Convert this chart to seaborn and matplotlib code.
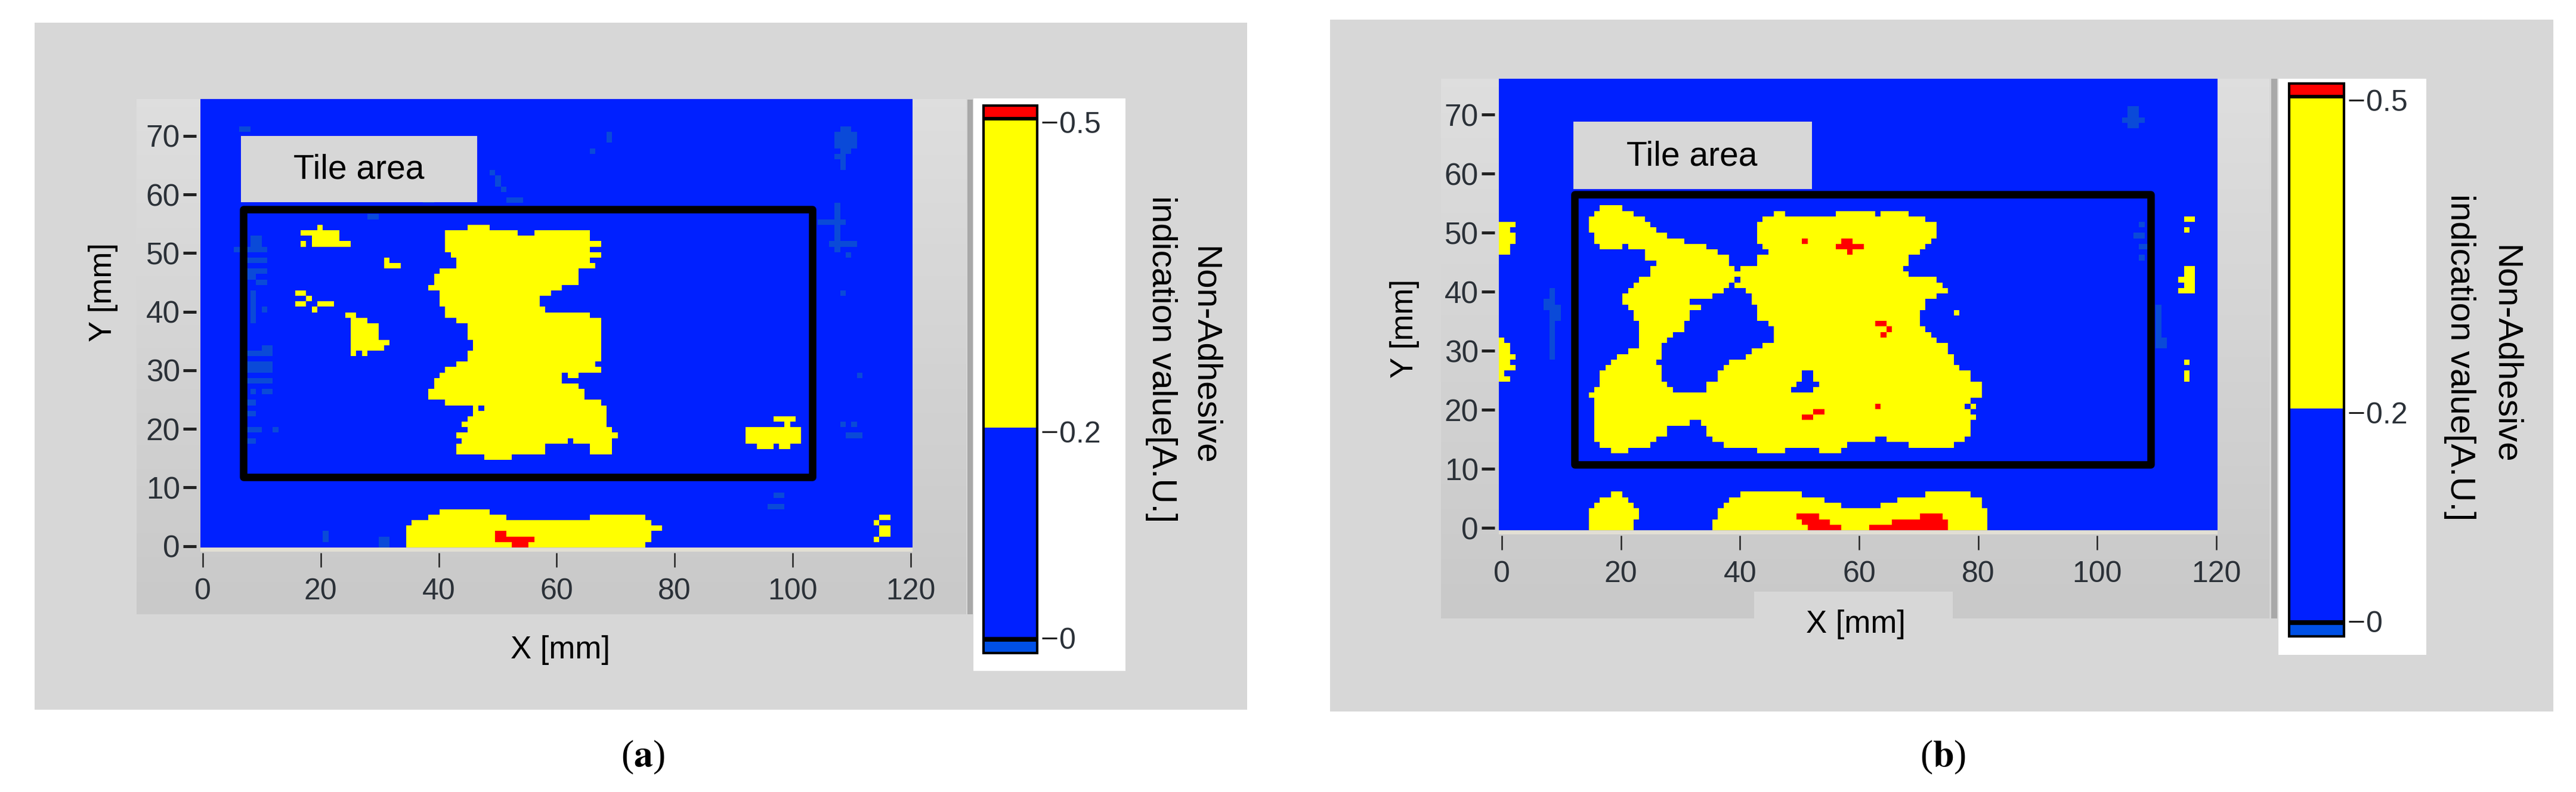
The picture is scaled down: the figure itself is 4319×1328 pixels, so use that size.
"""non-adhesive maps of two tile specimens, cells read off the picture"""
import matplotlib

matplotlib.use("Agg")
import matplotlib.pyplot as plt
import numpy as np
import seaborn as sns
from matplotlib.colors import LinearSegmentedColormap, ListedColormap
from matplotlib.patches import Rectangle

WIDTH, HEIGHT = 4319, 1328
N_ROWS, N_COLS = 82, 128

X_TICKS = [0, 20, 40, 60, 80, 100, 120]
Y_TICKS = [0, 10, 20, 30, 40, 50, 60, 70]
BAR_TICKS = [0, 0.2, 0.5]
BAR_LABELS = ["0", "0.2", "0.5"]
BAR_BANDS = [
    (-0.0145, -0.0035, "#0050e6"),
    (-0.0035, 0.001, "black"),
    (0.001, 0.204, "#0020ff"),
    (0.204, 0.5015, "#ffff00"),
    (0.5015, 0.505, "black"),
    (0.505, 0.516, "#ff0000"),
]

# cell classes
SPECK, YELLOW, RED = 1, 2, 3

# panel (a): row -> spans of columns
A_MAIN = {
    58: [(48, 52)], 57: [(44, 57), (60, 70)], 56: [(44, 70)], 55: [(44, 72)],
    54: [(44, 70)], 53: [(45, 72)], 52: [(46, 70)], 51: [(46, 71)],
    50: [(43, 68)], 49: [(42, 68)], 48: [(42, 68)], 47: [(41, 65)],
    46: [(43, 63)], 45: [(43, 61)], 44: [(43, 61)], 43: [(44, 62)],
    42: [(44, 70)], 41: [(46, 72)], 40: [(48, 72)], 39: [(48, 72)],
    38: [(48, 72)], 37: [(49, 72)], 36: [(49, 72)], 35: [(48, 72)],
    34: [(48, 72)], 33: [(46, 71)], 32: [(44, 72)], 31: [(43, 65), (66, 68)],
    30: [(42, 65)], 29: [(42, 68)], 28: [(41, 69)], 27: [(41, 69)],
    26: [(44, 72)], 25: [(49, 50), (51, 73)], 24: [(49, 73)], 23: [(48, 73)],
    22: [(47, 73)], 21: [(48, 74)], 20: [(46, 75)], 19: [(47, 66), (67, 74)],
    18: [(46, 62), (70, 74)], 17: [(46, 62), (70, 74)], 16: [(51, 56)],
}
A_SPOTS = {
    58: [(21, 22)], 57: [(18, 25)], 56: [(20, 25)], 55: [(18, 19), (20, 27)],
    52: [(33, 34)], 51: [(33, 36)],
    46: [(17, 19)], 45: [(19, 20)], 44: [(17, 19), (21, 24)], 43: [(20, 21)],
    42: [(26, 28)], 41: [(27, 30)], 40: [(27, 32)], 39: [(27, 32)],
    38: [(27, 32)], 37: [(27, 34)], 36: [(27, 33)], 35: [(27, 28), (29, 30)],
    23: [(103, 107)], 22: [(105, 106)], 21: [(98, 108)], 20: [(98, 108)],
    19: [(98, 108)], 18: [(100, 103), (104, 106)],
    5: [(122, 124)], 4: [(121, 122)], 3: [(122, 124)], 2: [(122, 124)],
    1: [(121, 122)],
}
A_BOTTOM = {
    6: [(43, 52)], 5: [(41, 55), (70, 80)], 4: [(38, 81)], 3: [(37, 83)],
    2: [(37, 81)], 1: [(37, 81)], 0: [(37, 80)],
}
A_RED = {2: [(53, 55)], 1: [(53, 60)], 0: [(56, 59)]}
A_SPECK = {
    76: [(7, 9), (115, 117)], 75: [(73, 74), (114, 118)], 74: [(73, 74), (114, 118)],
    73: [(114, 118)], 72: [(70, 71), (115, 117)], 71: [(114, 116)],
    70: [(115, 116)], 69: [(115, 116)], 68: [(52, 53)], 67: [(53, 54)],
    66: [(53, 54)], 65: [(54, 55)], 63: [(40, 42), (55, 58)], 62: [(114, 115)],
    61: [(114, 115)], 60: [(30, 32), (114, 115)], 59: [(111, 116)],
    58: [(114, 115)], 57: [(114, 115)], 56: [(9, 11), (114, 115)],
    55: [(9, 11), (113, 118)], 54: [(6, 12), (114, 115)], 53: [(116, 117)],
    52: [(8, 12)], 50: [(8, 12)], 49: [(8, 10)], 48: [(10, 12)],
    46: [(9, 10), (115, 116)], 45: [(9, 10)], 44: [(9, 10)], 43: [(9, 10), (11, 12)],
    42: [(9, 10)], 41: [(9, 10)], 36: [(11, 13)], 35: [(8, 13)], 33: [(8, 13)],
    32: [(8, 13)], 31: [(118, 119)], 30: [(8, 13)], 28: [(9, 10), (11, 13)],
    26: [(8, 10)], 24: [(8, 10)], 22: [(115, 116), (117, 118)],
    21: [(8, 11), (13, 14)], 20: [(116, 119)], 19: [(8, 10)],
    9: [(103, 105)], 7: [(102, 105)], 2: [(22, 23)], 1: [(22, 23), (32, 34)],
    0: [(32, 34)],
}

# panel (b)
B_MAIN = {
    58: [(18, 22)], 57: [(17, 24), (49, 51), (60, 67), (68, 73)],
    56: [(16, 26), (47, 76)], 55: [(16, 27), (46, 78)], 54: [(16, 28), (46, 78)],
    53: [(17, 30), (46, 78)], 52: [(17, 33), (46, 77)],
    51: [(18, 22), (23, 37), (47, 76)], 50: [(26, 39), (48, 75)],
    49: [(26, 41), (46, 73)], 48: [(28, 41), (46, 73)], 47: [(27, 42), (43, 72)],
    46: [(27, 73)], 45: [(25, 42), (43, 78)], 44: [(24, 41), (42, 79)],
    43: [(23, 40), (44, 80)], 42: [(22, 38), (45, 78)], 41: [(22, 34), (45, 76)],
    40: [(23, 36), (46, 76)], 39: [(24, 34), (46, 75)], 38: [(24, 34), (46, 75)],
    37: [(25, 33), (48, 75)], 36: [(25, 33), (49, 76)], 35: [(25, 31), (49, 77)],
    34: [(25, 30), (49, 78)], 33: [(25, 29), (47, 80)], 32: [(23, 29), (45, 80)],
    31: [(21, 29), (44, 81)], 30: [(20, 28), (41, 81)], 29: [(19, 29), (40, 82)],
    28: [(18, 29), (39, 54), (56, 84)], 27: [(18, 29), (39, 54), (56, 84)],
    26: [(18, 30), (37, 53), (57, 86)], 25: [(17, 31), (37, 52), (56, 86)],
    24: [(16, 86)], 23: [(17, 84)], 22: [(17, 83), (84, 85)], 21: [(17, 84)],
    20: [(17, 85)], 19: [(17, 34), (36, 84)], 18: [(17, 30), (37, 84)],
    17: [(17, 30), (37, 84)], 16: [(17, 28), (38, 67), (69, 83)],
    15: [(18, 27), (40, 62), (73, 81)], 14: [(20, 23), (46, 51), (57, 61)],
}
B_SPOTS = {
    56: [(122, 124)], 55: [(0, 3)], 54: [(0, 2), (122, 123)], 53: [(0, 3)],
    52: [(0, 3)], 51: [(0, 2)], 50: [(0, 2)], 47: [(122, 124)], 46: [(122, 124)],
    45: [(121, 124)], 44: [(122, 124)], 43: [(121, 124)], 39: [(81, 82)],
    34: [(0, 1)], 33: [(0, 2)], 32: [(0, 2)], 31: [(0, 3)],
    30: [(0, 2), (122, 123)], 29: [(0, 3)], 28: [(0, 1), (122, 123)],
    27: [(0, 2), (122, 123)],
}
B_BOTTOM = {
    6: [(20, 22), (43, 54), (76, 84)], 5: [(18, 23), (41, 58), (71, 86)],
    4: [(17, 24), (40, 61), (68, 86)], 3: [(16, 25), (39, 87)],
    2: [(16, 25), (39, 87)], 1: [(16, 24), (38, 87)], 0: [(16, 24), (38, 87)],
}
B_RED = {
    52: [(54, 55), (61, 63)], 51: [(60, 65)], 50: [(62, 63)], 37: [(67, 69)],
    36: [(69, 70)], 35: [(68, 69)], 22: [(67, 68)], 21: [(56, 58)], 20: [(54, 56)],
    2: [(53, 57), (75, 79)], 1: [(54, 59), (70, 80)], 0: [(55, 61), (66, 80)],
}
B_SPECK = {
    76: [(112, 114)], 75: [(112, 114)], 74: [(111, 115)], 73: [(112, 114)],
    55: [(114, 115)], 53: [(113, 115)], 51: [(114, 116)], 49: [(114, 115)],
    43: [(9, 10)], 42: [(9, 10)], 41: [(8, 10)], 40: [(8, 11), (117, 118)],
    39: [(9, 11), (117, 118)], 38: [(9, 11), (117, 118)], 37: [(9, 10), (117, 118)],
    36: [(9, 10), (117, 118)], 35: [(9, 10), (117, 118)], 34: [(9, 10), (117, 119)],
    33: [(9, 10), (117, 119)], 32: [(9, 10)], 31: [(9, 10)],
}

# tile outline in mm: x0, x1, y0, y1
A_TILE = (6.9, 103.4, 11.8, 57.5)
B_TILE = (12.2, 109.0, 10.8, 56.5)

TEXT = "#2b3138"
GREY = "#d7d7d7"
CMAP = ListedColormap(["#0020ff", "#0a4ad8", "#ffff00", "#ff0000"])
RAMP = LinearSegmentedColormap.from_list("ramp", ["#dedede", "#c9c9c9"])


def build_grid(layers):
    grid = np.zeros((N_ROWS, N_COLS), dtype=int)
    for rows, value in layers:
        for row, spans in rows.items():
            for start, stop in spans:
                grid[row, start:stop] = value
    return grid


def px_axes(fig, left, right, top, bottom):
    return fig.add_axes(
        [left / WIDTH, 1 - bottom / HEIGHT, (right - left) / WIDTH, (bottom - top) / HEIGHT]
    )


def draw_map(fig, box, grid, tile, x_fit, y_fit):
    ax = px_axes(fig, *box)
    sns.heatmap(grid, ax=ax, cmap=CMAP, vmin=0, vmax=3, cbar=False, xticklabels=False, yticklabels=False)
    ax.invert_yaxis()
    #  moving a spine resets the ticks, so it comes first
    ax.spines["left"].set_position(("outward", 5))
    ax.spines["bottom"].set_position(("outward", 6.5))
    for side in ["left", "bottom", "top", "right"]:
        ax.spines[side].set_visible(False)
    ax.set_xticks(x_fit[0] + np.array(X_TICKS) * x_fit[1])
    ax.set_yticks(y_fit[0] + np.array(Y_TICKS) * y_fit[1])
    ax.set_xticklabels(X_TICKS, fontsize=36, color=TEXT)
    ax.set_yticklabels(Y_TICKS, fontsize=37, color=TEXT, rotation=0)
    ax.tick_params(axis="y", left=True, length=16, width=3.6, pad=3.5, color="#222222")
    ax.tick_params(axis="x", bottom=True, length=17, width=1.8, pad=13, color="#222222")
    x0, x1, y0, y1 = tile
    ax.add_patch(
        Rectangle(
            (x_fit[0] + x0 * x_fit[1], y_fit[0] + y0 * y_fit[1]),
            (x1 - x0) * x_fit[1],
            (y1 - y0) * y_fit[1],
            fill=False,
            ec="black",
            lw=9,
            joinstyle="round",
        )
    )
    return ax


def draw_bar(fig, box):
    ax = px_axes(fig, *box)
    for low, high, colour in BAR_BANDS:
        ax.axhspan(low, high, color=colour, lw=0)
    ax.set_xlim(0, 1)
    ax.set_ylim(BAR_BANDS[0][0], BAR_BANDS[-1][1])
    ax.spines["right"].set_position(("outward", 5.8))
    for side in ["left", "bottom", "top", "right"]:
        ax.spines[side].set_visible(False)
    ax.set_xticks([])
    ax.yaxis.tick_right()
    ax.set_yticks(BAR_TICKS)
    ax.set_yticklabels(BAR_LABELS, fontsize=36, color=TEXT)
    ax.tick_params(axis="y", right=True, length=18, width=2.2, pad=3, color="#222222")
    ax.add_patch(Rectangle((0, 0), 1, 1, transform=ax.transAxes, fill=False, ec="black", lw=3, clip_on=False))


sns.set_theme(style="white")
plt.rcParams["font.family"] = ["Liberation Sans", "DejaVu Sans"]
fig = plt.figure(figsize=(WIDTH / 100, HEIGHT / 100), dpi=100, facecolor="white")

# backdrop works in picture pixels
bg = fig.add_axes([0, 0, 1, 1])
bg.axis("off")
bg.add_patch(Rectangle((58, 38), 2033, 1152, color=GREY, lw=0))
bg.add_patch(Rectangle((2230, 33), 2051, 1160, color=GREY, lw=0))
ramp = np.linspace(0, 1, 64).reshape(-1, 1)
for left, right, top_y, bottom in [(229, 1620, 166, 1030), (2416, 3805, 132, 1037)]:
    bg.imshow(ramp, extent=(left, right, bottom, top_y), cmap=RAMP, aspect="auto", zorder=1)
bg.set_xlim(0, WIDTH)
bg.set_ylim(HEIGHT, 0)
bg.add_patch(Rectangle((2941, 992), 333, 45, color=GREY, lw=0, zorder=2))
for left, top_y, w, h in [(1622, 167, 9, 863), (3808, 132, 10, 905)]:
    bg.add_patch(Rectangle((left, top_y), w, h, color="#a9a9a9", lw=0, zorder=2))
for left, top_y, w, h in [(1632, 165, 255, 960), (3820, 132, 248, 966)]:
    bg.add_patch(Rectangle((left, top_y), w, h, color="white", lw=0, zorder=2))
for left, top_y, w in [(336, 919, 1194), (2513, 890, 1205)]:
    bg.add_patch(Rectangle((left, top_y), w, 6, color="#e2dfd4", lw=0, zorder=2))

grid_a = build_grid([(A_SPECK, SPECK), (A_MAIN, YELLOW), (A_SPOTS, YELLOW), (A_BOTTOM, YELLOW), (A_RED, RED)])
grid_b = build_grid([(B_SPECK, SPECK), (B_MAIN, YELLOW), (B_SPOTS, YELLOW), (B_BOTTOM, YELLOW), (B_RED, RED)])

ax_a = draw_map(fig, (336, 1530, 166, 918), grid_a, A_TILE, (0.43, 1.060), (0.27, 1.071))
ax_b = draw_map(fig, (2513, 3718, 132, 889), grid_b, B_TILE, (0.53, 1.0606), (0.38, 1.0726))
draw_bar(fig, (1649, 1739, 177, 1095))
draw_bar(fig, (3838, 3930, 140, 1067))

# text and tile label boxes go on top of the maps
top = fig.add_axes([0, 0, 1, 1])
top.patch.set_alpha(0)
top.set_xlim(0, WIDTH)
top.set_ylim(HEIGHT, 0)
top.axis("off")
top.add_patch(Rectangle((404, 228), 396, 111, color=GREY, lw=0))
top.add_patch(Rectangle((2638, 204), 400, 113, color=GREY, lw=0))
label = dict(ha="center", va="center", color="black")
top.text(602, 285, "Tile area", fontsize=41, **label)
top.text(2837, 263, "Tile area", fontsize=41, **label)
top.text(940, 1090, "X [mm]", fontsize=38, **label)
top.text(3112, 1047, "X [mm]", fontsize=38, **label)
top.text(173, 490, "Y [mm]", fontsize=38, rotation=90, **label)
top.text(2355, 551, "Y [mm]", fontsize=38, rotation=90, **label)
top.text(2019, 596, "Non-Adhesive", fontsize=42, rotation=270, **label)
top.text(1947, 602, "indication value[A.U.]", fontsize=42, rotation=270, **label)
top.text(4200, 594, "Non-Adhesive", fontsize=42, rotation=270, **label)
top.text(4124, 599, "indication value[A.U.]", fontsize=42, rotation=270, **label)
for x, letter in [(1078, "a"), (3258, "b")]:
    top.text(
        x, 1270, f"($\\mathbf{{{letter}}}$)", fontsize=46, ha="center", va="center",
        color="black", family="Liberation Serif", math_fontfamily="stix",
    )

fig.savefig("out.png", dpi=100, facecolor="white")
